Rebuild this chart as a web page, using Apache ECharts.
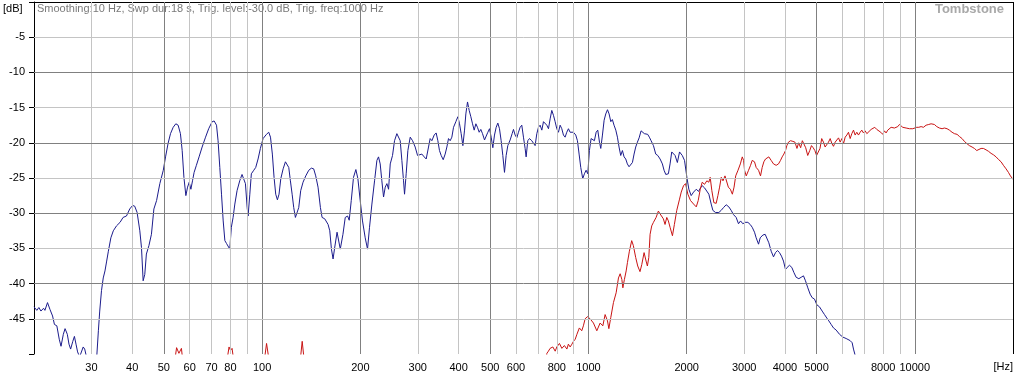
<!DOCTYPE html>
<html><head><meta charset="utf-8">
<script src="https://cdn.jsdelivr.net/npm/echarts@6/dist/echarts.min.js"></script>
<style>html,body{margin:0;padding:0;background:#fff}#c{width:1016px;height:381px}</style>
</head><body><div id="c"></div>
<script>
// Blue curve (woofer-like response)
const blueHz = [20.0,20.4,20.7,21.0,21.4,21.6,22.0,22.4,22.8,23.1,23.5,23.9,24.2,24.6,24.9,25.3,25.6,25.9,26.3,26.6,26.9,27.2,27.6,28.3,28.6,29.1,30.0,31.1,31.5,31.8,32.2,32.6,33.0,33.4,33.8,34.4,35.0,35.8,36.7,37.5,38.4,39.3,40.1,40.7,41.4,42.2,42.7,43.2,43.7,44.2,45.0,45.8,46.6,47.5,48.6,49.8,50.6,51.5,52.4,53.4,54.4,55.3,56.2,56.9,57.6,58.4,59.1,59.8,60.5,61.2,61.9,62.9,64.1,65.5,67.1,68.6,70.3,71.3,72.5,73.3,74.2,75.1,76.0,76.9,77.8,78.7,79.6,80.5,81.5,82.5,83.8,85.4,86.8,87.9,88.9,90.0,90.6,91.7,92.7,94.3,95.6,97.2,98.8,100.7,103.1,104.8,106.1,107.5,108.8,110.1,111.4,112.7,114.1,116.0,117.9,119.3,120.7,122.1,123.6,125.0,126.5,128.0,129.5,131.3,133.5,136.1,139.0,141.6,143.9,146.0,148.4,150.9,152.7,155.6,159.3,161.2,163.1,165.0,167.0,169.7,173.6,176.9,179.8,182.8,184.9,187.6,190.6,193.8,196.6,199.8,203.1,207.0,210.4,213.4,217.0,221.1,224.8,227.4,230.1,232.8,235.6,238.4,241.2,244.1,247.0,251.0,254.6,258.8,261.9,265.0,268.1,271.3,273.2,276.4,279.7,284.4,289.1,294.5,299.5,303.7,308.7,313.9,318.3,323.6,327.3,331.3,336.8,341.5,345.6,349.6,353.8,358.9,363.9,368.3,372.6,377.0,381.5,386.0,392.4,398.0,402.7,407.4,412.3,417.2,421.1,426.1,431.1,436.2,441.4,446.6,451.9,457.1,462.6,468.0,473.6,480.4,486.1,491.8,497.6,503.5,509.4,515.4,521.5,527.7,533.9,540.2,546.6,553.1,559.6,566.2,575.6,583.7,589.3,596.2,603.3,610.4,617.6,624.9,632.3,639.7,644.3,651.9,659.6,670.5,678.5,686.5,694.8,703.0,711.2,719.7,728.2,736.8,745.5,754.3,763.2,772.2,781.4,790.6,799.9,809.4,818.9,828.6,838.4,848.3,858.3,868.5,878.7,889.2,899.7,914.5,925.3,936.3,947.3,960.7,972.1,983.7,995.4,1007,1019,1031,1043,1056,1068,1081,1091,1104,1117,1130,1144,1157,1171,1184,1198,1213,1227,1241,1256,1271,1286,1301,1316,1332,1348,1364,1380,1396,1413,1430,1450,1467,1484,1502,1519,1537,1556,1582,1608,1631,1658,1685,1705,1726,1758,1779,1800,1821,1843,1873,1902,1939,1970,2003,2031,2065,2100,2140,2175,2206,2232,2269,2296,2339,2378,2406,2452,2510,2551,2594,2643,2693,2738,2783,2836,2883,2925,2973,3022,3080,3131,3176,3228,3266,3321,3360,3424,3480,3521,3571,3631,3691,3743,3797,3850,3905,3960,4017,4064,4131,4200,4260,4330,4413,4487,4560,4625,4702,4780,4849,4929,5010,5105,5203,5289,5377,5454,5544,5636,5743,5880,6020,6162,6338,6429,6490,6568,6800];
const blueDb = [-43.3,-43.8,-43.4,-43.9,-43.5,-43.8,-42.7,-43.7,-44.6,-45.8,-46.0,-47.9,-48.9,-47.2,-46.4,-47.2,-48.6,-49.3,-48.2,-47.5,-48.6,-49.7,-50.4,-49.0,-49.3,-50.8,-53.0,-50.8,-46.7,-43.9,-41.0,-39.2,-38.2,-36.8,-35.4,-33.5,-32.5,-31.8,-31.3,-30.6,-30.4,-29.4,-28.9,-29.0,-29.9,-32.5,-34.9,-39.6,-38.7,-35.8,-34.6,-33.0,-29.4,-28.2,-25.8,-23.9,-22.0,-20.1,-18.7,-17.8,-17.3,-17.5,-18.7,-21.1,-24.9,-27.5,-26.3,-25.6,-26.6,-25.4,-24.2,-23.2,-22.0,-20.6,-19.2,-18.0,-17.0,-16.9,-17.5,-19.7,-23.5,-27.3,-31.1,-33.9,-34.3,-34.2,-35.1,-32.0,-30.6,-28.7,-26.8,-25.4,-24.5,-24.7,-25.8,-29.2,-30.4,-27.3,-24.4,-23.9,-23.5,-22.3,-20.8,-19.4,-18.8,-18.5,-19.2,-21.6,-24.9,-27.3,-28.1,-27.3,-25.1,-23.7,-22.7,-22.7,-23.5,-25.4,-27.3,-29.2,-30.6,-30.8,-29.2,-26.8,-25.6,-24.7,-23.9,-23.6,-23.7,-24.7,-26.3,-29.2,-30.6,-30.8,-31.6,-32.5,-35.1,-36.5,-34.8,-32.7,-35.1,-33.0,-30.6,-30.4,-31.0,-28.2,-24.9,-23.8,-25.1,-28.2,-31.1,-33.5,-35.1,-32.0,-28.7,-25.4,-22.5,-22.0,-23.0,-25.4,-27.7,-26.3,-25.8,-26.6,-23.0,-21.8,-19.7,-18.7,-18.5,-19.7,-22.5,-25.4,-27.3,-24.4,-21.1,-19.2,-19.7,-20.6,-21.8,-22.0,-21.6,-22.0,-22.3,-20.6,-19.4,-19.7,-18.9,-18.6,-19.7,-21.1,-21.8,-22.4,-21.6,-20.6,-19.4,-19.7,-19.2,-17.8,-17.0,-16.3,-17.3,-18.7,-20.4,-18.2,-15.9,-14.2,-15.4,-16.3,-17.3,-18.2,-17.3,-17.8,-18.5,-18.1,-18.7,-19.6,-19.7,-18.5,-18.0,-19.2,-20.7,-18.9,-17.8,-17.2,-18.0,-19.7,-21.8,-24.2,-21.8,-20.4,-19.6,-18.7,-18.1,-18.9,-19.3,-18.5,-17.8,-17.5,-19.2,-20.8,-22.0,-19.7,-19.4,-19.7,-19.9,-20.4,-18.7,-17.8,-17.5,-18.2,-17.0,-16.8,-17.5,-18.0,-16.6,-15.4,-16.1,-17.0,-18.0,-18.5,-17.5,-18.0,-18.9,-19.2,-18.5,-18.0,-18.5,-18.4,-18.5,-18.9,-19.7,-21.6,-23.5,-25.1,-24.4,-23.9,-24.4,-21.1,-19.4,-19.2,-19.7,-18.5,-18.2,-19.9,-20.8,-18.9,-16.8,-15.9,-15.3,-15.9,-17.0,-16.7,-17.5,-18.2,-19.2,-20.6,-21.8,-21.1,-22.0,-22.3,-23.0,-23.4,-23.5,-22.8,-21.6,-20.6,-19.9,-19.3,-18.3,-18.5,-18.7,-18.6,-18.8,-19.2,-19.7,-20.4,-21.6,-21.8,-22.3,-23.0,-23.9,-24.5,-24.4,-23.0,-21.3,-21.2,-21.8,-22.8,-21.3,-21.8,-22.5,-24.9,-26.6,-27.5,-27.0,-26.6,-26.9,-26.4,-26.1,-26.4,-26.6,-27.3,-28.7,-29.6,-29.9,-29.9,-29.6,-29.2,-28.8,-29.1,-29.6,-30.2,-30.6,-31.5,-31.1,-31.5,-31.3,-31.3,-31.6,-32.0,-32.7,-33.5,-34.4,-33.5,-33.1,-33.0,-33.1,-34.2,-35.4,-36.2,-35.6,-35.3,-35.6,-36.1,-36.8,-38.0,-37.7,-37.4,-37.7,-38.4,-39.1,-39.3,-39.1,-38.9,-39.6,-40.6,-41.5,-42.0,-42.2,-43.0,-43.3,-43.9,-44.4,-44.9,-45.3,-45.8,-46.3,-46.6,-47.2,-47.6,-47.8,-48.1,-48.4,-49.3,-50.2,-53.0];

// Red curve (tweeter-like response)
const redHz = [20,50,53.8,54.7,55.6,56.6,57.3,62,75,77.7,79.2,80.0,80.9,82.2,88,98,101.2,103.2,105.5,112,126,130.5,132.7,135,142,500,700,746,754,763,771,778,791,800,815,829,844,859,868,879,890,900,911,922,938,954,965,977,993,1012,1036,1061,1086,1107,1125,1144,1155,1171,1193,1216,1236,1251,1266,1275,1289,1305,1317,1335,1357,1373,1396,1416,1439,1457,1481,1502,1516,1531,1545,1563,1582,1612,1638,1658,1677,1697,1717,1738,1758,1779,1809,1834,1865,1902,1925,1956,1984,2017,2055,2100,2140,2170,2201,2232,2269,2306,2339,2361,2389,2423,2463,2493,2523,2553,2584,2621,2646,2684,2722,2761,2794,2827,2873,2921,2961,2989,3009,3045,3095,3139,3176,3228,3266,3321,3368,3408,3448,3489,3530,3571,3631,3691,3761,3823,3878,3924,3971,4017,4055,4103,4163,4232,4293,4355,4407,4470,4524,4578,4632,4699,4767,4825,4883,4942,5002,5062,5124,5186,5250,5313,5377,5441,5506,5571,5636,5703,5771,5839,5908,5978,6049,6120,6192,6265,6339,6414,6490,6566,6644,6722,6801,6882,6963,7045,7132,7229,7350,7436,7541,7648,7756,7867,7979,8073,8168,8265,8363,8461,8562,8663,8766,8870,8975,9081,9189,9297,9408,9519,9632,9745,9860,10000,10142,10287,10457,10629,10832,11036,11220,11353,11487,11678,11899,12125,12328,12560,12770,13010,13228,13480,13702,13963,14194,14431,14703,14983,15231,15485,15704,15965,16230,16538,16813,17133,17418,17749,18085,18385,18692,19046,19364,19642,20000];
const redDb = [-60,-57,-51.5,-49.1,-49.9,-49.2,-51.5,-57,-57,-51.5,-49.0,-49.5,-49.2,-51.5,-57,-57,-51.5,-48.5,-51.5,-57,-57,-51.5,-48.2,-51.5,-57,-70,-58,-49.9,-49.6,-49.2,-49.4,-49.0,-49.6,-49.0,-48.5,-49.2,-48.8,-49.3,-48.6,-49.0,-48.6,-48.2,-47.9,-47.2,-46.3,-46.7,-46.0,-45.0,-44.7,-45.0,-45.6,-46.7,-45.6,-46.0,-44.4,-45.3,-46.4,-44.8,-42.7,-41.3,-39.2,-38.6,-39.4,-40.6,-39.4,-38.2,-37.0,-35.4,-33.9,-34.6,-36.3,-37.5,-38.3,-37.3,-35.6,-36.8,-37.5,-36.3,-33.0,-31.8,-31.3,-30.6,-29.7,-30.1,-30.0,-30.8,-31.6,-30.6,-31.1,-32.0,-33.2,-31.6,-29.6,-28.0,-27.0,-26.1,-25.8,-27.3,-28.2,-28.7,-29.1,-28.2,-26.6,-25.6,-25.9,-25.4,-25.6,-24.9,-26.8,-28.5,-28.6,-27.5,-26.3,-24.9,-25.4,-24.7,-24.9,-26.3,-26.6,-27.3,-26.3,-24.7,-23.9,-23.0,-22.0,-22.5,-23.9,-24.7,-23.9,-23.2,-22.5,-22.7,-23.5,-23.9,-24.7,-23.5,-22.7,-22.3,-22.5,-22.0,-22.5,-23.0,-23.2,-23.0,-22.5,-22.0,-21.6,-21.1,-20.4,-19.9,-19.7,-19.8,-19.9,-20.8,-20.0,-20.7,-19.7,-19.9,-20.7,-21.8,-21.1,-20.4,-20.7,-21.1,-21.8,-22.0,-20.8,-19.4,-19.9,-20.6,-20.8,-19.9,-19.4,-20.1,-20.5,-19.9,-19.7,-19.3,-19.9,-19.4,-20.1,-19.2,-18.9,-18.5,-19.4,-18.7,-18.2,-18.9,-18.5,-18.9,-18.5,-18.2,-18.6,-18.3,-18.7,-18.5,-18.1,-18.3,-17.8,-18.1,-18.0,-18.5,-18.8,-18.3,-18.6,-18.2,-18.0,-17.8,-17.7,-17.9,-17.8,-17.7,-17.4,-17.6,-17.8,-17.7,-17.9,-18.0,-18.0,-18.1,-18.0,-18.1,-17.8,-17.8,-17.7,-17.8,-17.5,-17.4,-17.3,-17.2,-17.4,-17.7,-17.9,-18.0,-17.9,-18.0,-18.2,-18.5,-18.7,-18.8,-19.1,-19.4,-19.8,-20.1,-20.4,-20.6,-20.8,-21.1,-21.0,-20.8,-20.8,-21.0,-21.2,-21.5,-21.7,-22.0,-22.4,-22.7,-23.2,-23.7,-24.2,-24.7,-25.2];

// Axis ticks / labels / grid
const xTickHz = [20,30,40,50,60,70,80,90,100,200,300,400,500,600,700,800,900,1000,2000,3000,4000,5000,6000,7000,8000,9000,10000,20000];
const xLabelHz = [30,40,50,60,70,80,100,200,300,400,500,600,800,1000,2000,3000,4000,5000,8000,10000];
const xMajorGridHz = [50,100,200,500,1000,2000,5000,10000];
const xMinorGridHz = [30,40,60,70,80,90,300,400,600,700,800,900,3000,4000,6000,7000,8000,9000];
const yTickDb = [-50,-45,-40,-35,-30,-25,-20,-15,-10,-5,0];
const yLabelDb = [-45,-40,-35,-30,-25,-20,-15,-10,-5];
const yMajorGridDb = [-40,-30,-20,-10];
const yMinorGridDb = [-45,-35,-25,-15,-5];
const titleText = 'Smoothing:10 Hz, Swp dur:18 s, Trig. level:-30.0 dB, Trig. freq:1000 Hz';

const zip = (a, b) => a.map((v, i) => [v, b[i]]);
const DARK = '#808080', LIGHT = '#c4c4c4';
const FONT = '"Liberation Sans", Arial, sans-serif';

const gridLines = []
  .concat(xMinorGridHz.map(v => ({ xAxis: v, lineStyle: { color: LIGHT, width: 1, type: 'solid' } })))
  .concat(xMajorGridHz.map(v => ({ xAxis: v, lineStyle: { color: DARK, width: 1, type: 'solid' } })))
  .concat(yMinorGridDb.map(v => ({ yAxis: v, lineStyle: { color: LIGHT, width: 1, type: 'solid' } })))
  .concat(yMajorGridDb.map(v => ({ yAxis: v, lineStyle: { color: DARK, width: 1, type: 'solid' } })))
  .concat([{ xAxis: 20000, lineStyle: { color: '#000', width: 1, type: 'solid' } }]);

const chart = echarts.init(document.getElementById('c'), null, { renderer: 'canvas' });
chart.setOption({
  animation: false,
  backgroundColor: '#fff',
  grid: { left: 34, right: 3, top: 2, bottom: 27, containLabel: false },
  xAxis: {
    type: 'log', logBase: 10, min: 20, max: 20000,
    axisLine: { show: true, lineStyle: { color: '#000', width: 1 } },
    axisTick: { show: true, length: 5, customValues: xTickHz, lineStyle: { color: '#000' } },
    axisLabel: { show: true, customValues: xLabelHz, margin: 8, color: '#000', fontSize: 11, fontFamily: FONT,
      formatter: v => String(Math.round(v)) },
    splitLine: { show: false }, minorTick: { show: false }
  },
  yAxis: {
    type: 'value', min: -50, max: 0, interval: 5,
    axisLine: { show: true, lineStyle: { color: '#000', width: 1 } },
    axisTick: { show: true, length: 5, customValues: yTickDb, lineStyle: { color: '#000' } },
    axisLabel: { show: true, customValues: yLabelDb, margin: 9, color: '#000', fontSize: 11, fontFamily: FONT,
      formatter: v => String(Math.round(v)) },
    splitLine: { show: false }
  },
  graphic: [
    { type: 'text', left: 3, top: 3, style: { text: '[dB]', fill: '#000', font: '11px ' + FONT } },
    { type: 'text', left: 37, top: 3, style: { text: titleText, fill: '#7a7a7a', font: '11px ' + FONT } },
    { type: 'text', right: 12, top: 3, style: { text: 'Tombstone', fill: '#a8a8a8', font: 'bold 13px ' + FONT } },
    { type: 'text', right: 3, top: 361, style: { text: '[Hz]', fill: '#000', font: '11px ' + FONT } }
  ],
  series: [
    { name: 'grid', type: 'line', data: [], z: 1, silent: true,
      markLine: { silent: true, symbol: ['none', 'none'], animation: false, label: { show: false },
        emphasis: { disabled: true }, data: gridLines } },
    { name: 'blue', type: 'line', data: zip(blueHz, blueDb), z: 3, showSymbol: false, symbol: 'none',
      clip: true, lineStyle: { color: '#1c1c8c', width: 1 }, silent: true },
    { name: 'red', type: 'line', data: zip(redHz, redDb), z: 4, showSymbol: false, symbol: 'none',
      clip: true, lineStyle: { color: '#c81414', width: 1 }, silent: true }
  ]
});
</script></body></html>
